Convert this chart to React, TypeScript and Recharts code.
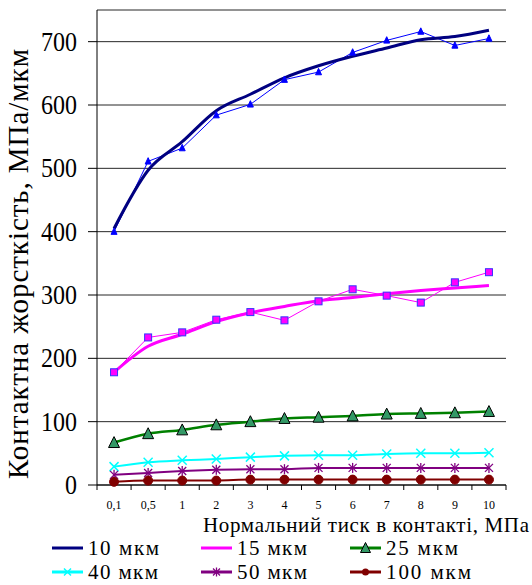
import React from "react";
import { CartesianGrid, Line, LineChart, XAxis, YAxis } from "recharts";

const categories = ["0,1", "0,5", "1", "2", "3", "4", "5", "6", "7", "8", "9", "10"];
const fit10 = [405, 497, 542, 591, 617, 643, 662, 677, 690, 703, 708, 718];
const meas10 = [400, 511, 532, 584, 601, 640, 652, 683, 702, 716, 694, 705];
const fit15 = [178, 219, 238, 258, 272, 282, 291, 296, 302, 307, 311, 315];
const meas15 = [178, 233, 241, 261, 273, 260, 290, 309, 299, 288, 320, 336];
const s25 = [67, 81, 87, 95, 100, 105, 107, 109, 112, 113, 114, 116];
const s40 = [29, 36, 39, 41, 44, 46, 47, 47, 49, 50, 50, 51];
const s50 = [16, 19, 22, 24, 25, 25, 27, 27, 27, 27, 27, 27];
const s100 = [5, 7, 7, 7, 8.5, 8.5, 8.5, 8.5, 8.5, 8.5, 8.5, 8.5];
const yTicks = [0, 100, 200, 300, 400, 500, 600, 700];

const data = categories.map((c, i) => ({
  p: c,
  fit10: fit10[i],
  meas10: meas10[i],
  fit15: fit15[i],
  meas15: meas15[i],
  s25: s25[i],
  s40: s40[i],
  s50: s50[i],
  s100: s100[i],
}));

const FONT = '"Liberation Serif", "Times New Roman", serif';
const W = 532;
const H = 585;
const LEFT = 97;
const RIGHT = 26;
const BAND = (W - LEFT - RIGHT) / categories.length;
// source image text is slightly stretched vertically
const STRETCH = 1.12;

function Tri({ cx, cy, s, fill, stroke }: any) {
  const h = s * 0.9;
  return (
    <polygon
      points={`${cx},${cy - h / 2 - 1} ${cx - s / 2},${cy + h / 2} ${cx + s / 2},${cy + h / 2}`}
      fill={fill}
      stroke={stroke}
      strokeWidth={1}
    />
  );
}

function Cross({ cx, cy, s, color }: any) {
  const r = s / 2;
  return (
    <g stroke={color} strokeWidth={1.5}>
      <line x1={cx - r} y1={cy - r} x2={cx + r} y2={cy + r} />
      <line x1={cx - r} y1={cy + r} x2={cx + r} y2={cy - r} />
    </g>
  );
}

function Star({ cx, cy, s, color }: any) {
  const r = s / 2;
  return (
    <g stroke={color} strokeWidth={1.3}>
      <line x1={cx - r} y1={cy - r} x2={cx + r} y2={cy + r} />
      <line x1={cx - r} y1={cy + r} x2={cx + r} y2={cy - r} />
      <line x1={cx} y1={cy - r - 1} x2={cx} y2={cy + r + 1} />
    </g>
  );
}

const dotBlueTri = (p: any) => <Tri key={p.index} cx={p.cx} cy={p.cy} s={6} fill="#0000ff" stroke="#0000ff" />;
const dotSquare = (p: any) => (
  <rect key={p.index} x={p.cx - 3.5} y={p.cy - 3.5} width={7} height={7} fill="#ff00ff" stroke="#3333ff" strokeWidth={1} />
);
const dotGreenTri = (p: any) => <Tri key={p.index} cx={p.cx} cy={p.cy} s={11} fill="#339966" stroke="#000" />;
const dotCross = (p: any) => <Cross key={p.index} cx={p.cx} cy={p.cy} s={9} color="#00ffff" />;
const dotStar = (p: any) => <Star key={p.index} cx={p.cx} cy={p.cy} s={8} color="#800080" />;
const dotCircle = (p: any) => <circle key={p.index} cx={p.cx} cy={p.cy} r={4.5} fill="#800000" stroke="#800000" />;

function XTick(props: any) {
  const { x, y, payload, index } = props;
  return (
    <g>
      <line x1={x - BAND / 2} y1={y} x2={x - BAND / 2} y2={y + 5} stroke="#000" />
      {index === categories.length - 1 && <line x1={x + BAND / 2} y1={y} x2={x + BAND / 2} y2={y + 5} stroke="#000" />}
      <text x={x} y={y + 24} textAnchor="middle" fontSize={12} fontFamily={FONT} fill="#000">
        {payload.value}
      </text>
    </g>
  );
}

function YTick(props: any) {
  const { x, y, payload } = props;
  return (
    <text
      transform={`translate(${x},${y}) scale(1,${STRETCH})`}
      x={0}
      y={0}
      dy="0.34em"
      textAnchor="end"
      fontSize={24}
      fontFamily={FONT}
      fill="#000"
    >
      {payload.value}
    </text>
  );
}

function XTitle() {
  return (
    <text x={203} y={531.5} fontSize={21} fontFamily={FONT} fill="#000" textLength={326} lengthAdjust="spacing">
      Нормальний тиск в контакті, МПа
    </text>
  );
}

function YTitle() {
  return (
    <text
      x={28}
      y={264}
      transform="rotate(-90 28 264)"
      textAnchor="middle"
      fontSize={29}
      fontFamily={FONT}
      fill="#000"
      textLength={430}
      lengthAdjust="spacing"
    >
      Контактна жорсткість, МПа/мкм
    </text>
  );
}

const legendNames = ["10 мкм", "15 мкм", "25 мкм", "40 мкм", "50 мкм", "100 мкм"];
const legendColors = ["#000080", "#ff00ff", "#008000", "#00ffff", "#800080", "#800000"];
const legendMarkers = ["", "", "tri", "cross", "star", "circle"];
const legendTextWidths = [71, 70, 72, 70, 70, 85];

function Legend() {
  const colX = [52, 201, 350];
  const rowY = [548, 572];
  return (
    <svg width={W} height={H} style={{ position: "absolute", left: 0, top: 0, pointerEvents: "none" }}>
      {legendNames.map((name, i) => {
        const x = colX[i % 3];
        const cy = rowY[Math.floor(i / 3)];
        const color = legendColors[i];
        const m = legendMarkers[i];
        return (
          <g key={name}>
            <line x1={x} y1={cy} x2={x + 31} y2={cy} stroke={color} strokeWidth={3} />
            {m === "tri" && <Tri cx={x + 15.5} cy={cy} s={10} fill="#339966" stroke="#000" />}
            {m === "cross" && <Cross cx={x + 15.5} cy={cy} s={7} color={color} />}
            {m === "star" && <Star cx={x + 15.5} cy={cy} s={7} color={color} />}
            {m === "circle" && <circle cx={x + 15.5} cy={cy} r={3.5} fill={color} />}
            <text
              x={x + 36}
              y={cy + 7}
              fontSize={21}
              fontFamily={FONT}
              fill="#000"
              textLength={legendTextWidths[i]}
              lengthAdjust="spacing"
            >
              {name}
            </text>
          </g>
        );
      })}
    </svg>
  );
}

export default function App() {
  return (
    <div style={{ position: "absolute", left: 0, top: 0, width: W, height: H, background: "#fff" }}>
      <LineChart width={W} height={H} data={data} margin={{ top: 10, right: RIGHT, left: 0, bottom: 55 }}>
        <CartesianGrid vertical={false} stroke="#000" strokeOpacity={0.85} />
        <XAxis
          dataKey="p"
          height={45}
          padding={{ left: BAND / 2, right: BAND / 2 }}
          axisLine={{ stroke: "#000" }}
          tickLine={false}
          tickSize={0}
          tickMargin={0}
          tick={<XTick />}
          interval={0}
          label={<XTitle />}
        />
        <YAxis
          width={LEFT}
          domain={[0, 750]}
          ticks={yTicks}
          axisLine={{ stroke: "#000" }}
          tickLine={{ stroke: "#000" }}
          tickSize={9}
          tickMargin={11}
          tick={<YTick />}
          label={<YTitle />}
        />
        <Line dataKey="meas10" type="linear" stroke="#0000ff" strokeWidth={1} dot={dotBlueTri} isAnimationActive={false} />
        <Line dataKey="fit10" type="monotone" stroke="#000080" strokeWidth={3} dot={false} isAnimationActive={false} />
        <Line dataKey="meas15" type="linear" stroke="#ff00ff" strokeWidth={1} dot={dotSquare} isAnimationActive={false} />
        <Line dataKey="fit15" type="monotone" stroke="#ff00ff" strokeWidth={3} dot={false} isAnimationActive={false} />
        <Line dataKey="s25" type="monotone" stroke="#008000" strokeWidth={2.5} dot={dotGreenTri} isAnimationActive={false} />
        <Line dataKey="s40" type="monotone" stroke="#00ffff" strokeWidth={2} dot={dotCross} isAnimationActive={false} />
        <Line dataKey="s50" type="monotone" stroke="#800080" strokeWidth={2} dot={dotStar} isAnimationActive={false} />
        <Line dataKey="s100" type="monotone" stroke="#800000" strokeWidth={2} dot={dotCircle} isAnimationActive={false} />
      </LineChart>
      <Legend />
    </div>
  );
}
